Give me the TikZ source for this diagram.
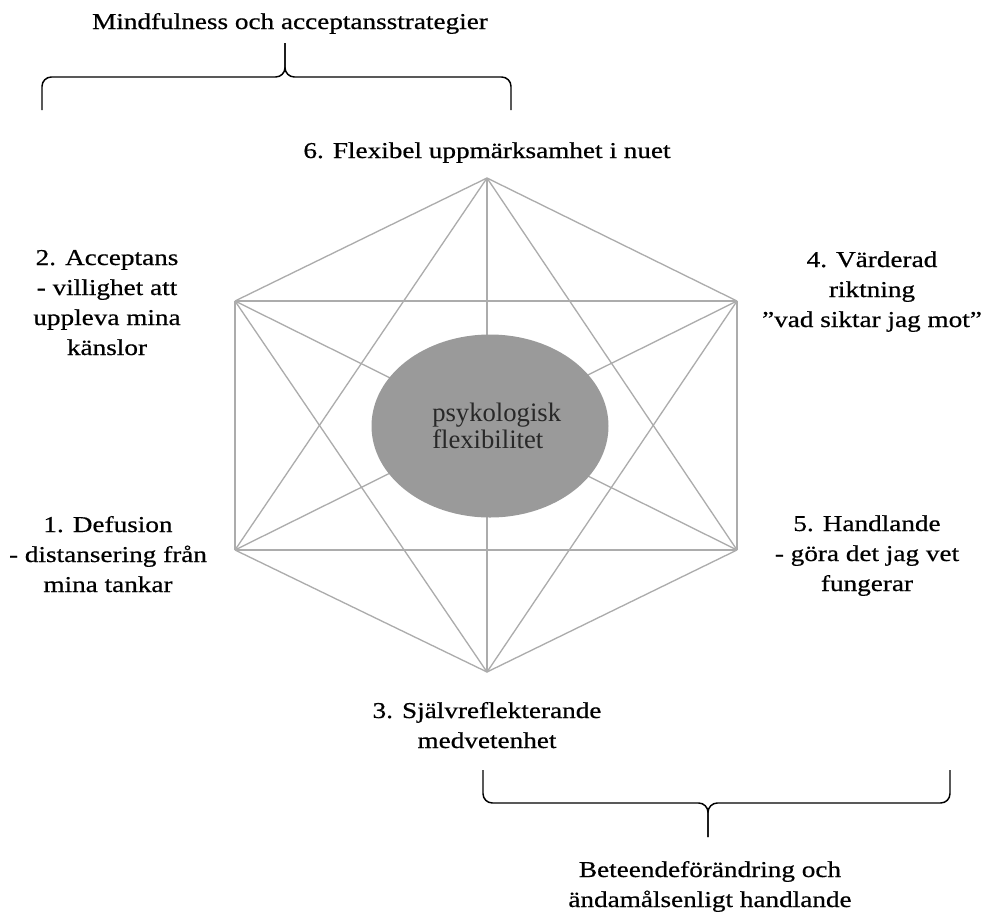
\documentclass[tikz,border=0pt]{standalone}
\usepackage{fontspec}
\setmainfont{Liberation Serif}[FakeStretch=1.2, FakeBold=0.6]
\newfontfamily\corefont{Liberation Serif}
\usepackage{xcolor}
\usetikzlibrary{shapes.geometric}
\definecolor{webgray}{RGB}{172,172,172}
\definecolor{coregray}{RGB}{154,154,154}
\definecolor{coretext}{RGB}{40,40,40}

\tikzset{
  label text/.style={align=center, inner sep=0pt, anchor=base,
    font=\fontsize{17}{22.5}\selectfont},
  web/.style={draw=webgray, line width=1pt},
  brace line/.style={line width=1.1pt, rounded corners=7pt},
}

\begin{document}
\begin{tikzpicture}[x=0.75pt,y=-0.75pt]
    \useasboundingbox (0,0) rectangle (982,911);

    % Corners of the hexagon
    \coordinate (p6) at (487,178);
    \coordinate (p2) at (235,301);
    \coordinate (p4) at (737,301);
    \coordinate (p1) at (235,550);
    \coordinate (p5) at (737,550);
    \coordinate (p3) at (487,672);

    % Every corner joined to every other corner
    \foreach \a/\b in {p6/p2, p6/p4, p6/p1, p6/p5, p6/p3,
                       p2/p4, p2/p1, p2/p5, p2/p3,
                       p4/p1, p4/p5, p4/p3,
                       p1/p5, p1/p3, p5/p3}
        \draw[web] (\a) -- (\b);

    % Core in the middle
    \node[ellipse, fill=coregray, inner sep=0pt,
          minimum width=177.75pt, minimum height=137.25pt] (core) at (490,426) {};
    \node[anchor=base west, inner sep=0pt, align=left, text=coretext,
          font=\corefont\fontsize{20}{20.25}\selectfont] (coretxt) at (432,448)
        {psykologisk\\flexibilitet};

    % Labels at the corners (placed by their last line)
    \node[label text] (l6) at (487,158) {6. Flexibel uppmärksamhet i nuet};
    \node[label text] (l2) at (107,355) {2. Acceptans\\- villighet att\\uppleva mina\\känslor};
    \node[label text] (l4) at (872,327) {4. Värderad\\riktning\\”vad siktar jag mot”};
    \node[label text] (l1) at (108,592) {1. Defusion\\- distansering från\\mina tankar};
    \node[label text] (l5) at (867,591) {5. Handlande\\- göra det jag vet\\fungerar};
    \node[label text] (l3) at (487,748) {3. Självreflekterande\\medvetenhet};

    % Brace above: mindfulness
    \coordinate (tipA) at (285,43);
    \draw[brace line] (42,110) -- (42,77) -- (285,77) -- (tipA);
    \draw[brace line] (511,110) -- (511,77) -- (285,77) -- (tipA);
    \node[label text] (groupA) at (290,29) {Mindfulness och acceptansstrategier};

    % Brace below: behaviour
    \coordinate (tipB) at (708,837);
    \draw[brace line] (483,770) -- (483,803) -- (708,803) -- (tipB);
    \draw[brace line] (950,770) -- (950,803) -- (708,803) -- (tipB);
    \node[label text] (groupB) at (710,907) {Beteendeförändring och\\ändamålsenligt handlande};
\end{tikzpicture}
\end{document}
